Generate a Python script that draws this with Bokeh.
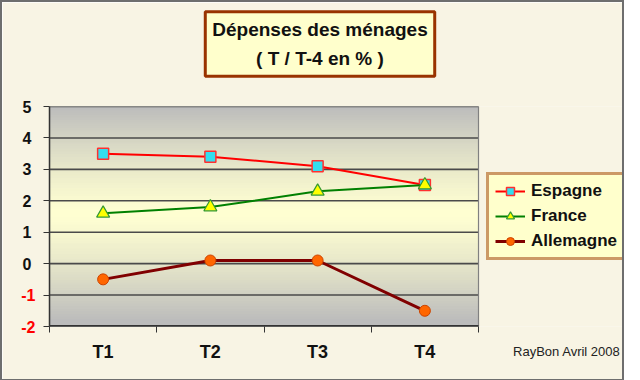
import numpy as np
from bokeh.plotting import figure
from bokeh.models import (FixedTicker, Label, Legend, LegendItem, Range1d,
                          CustomJSTickFormatter, LinearAxis)
from bokeh.embed import file_html
from bokeh.resources import INLINE

# ---- data ----
categories = ["T1", "T2", "T3", "T4"]
espagne = [3.5, 3.4, 3.1, 2.5]
france = [1.6, 1.8, 2.3, 2.5]
allemagne = [-0.5, 0.1, 0.1, -1.5]
y_ticks = [-2, -1, 0, 1, 2, 3, 4, 5]
title_text = "Dépenses des ménages\n( T / T-4 en % )"
credit_text = "RayBon Avril 2008"

# ---- layout (canvas pixels) ----
W, H = 620, 360
OFF = 3
FL, FT, FB = 50 - OFF, 107 - OFF, 327 - OFF   # plot area left/top/bottom
PR = 479 - OFF                                   # plot area right
FONT = "Liberation Sans"
BG = "#F8F4E4"
YMIN, YMAX = min(y_ticks), max(y_ticks)
NX = len(categories)

def dx(cx):
    return (cx - FL) / (PR - FL) * NX

def dy(cy):
    return YMIN + (FB - cy) / (FB - FT) * (YMAX - YMIN)

xpos = [i + 0.5 for i in range(NX)]

p = figure(frame_width=W - FL, frame_height=FB - FT, output_backend="svg",
           toolbar_location=None,
           x_range=Range1d(0, dx(W)), y_range=Range1d(YMIN, YMAX),
           min_border_left=FL, min_border_right=0, min_border_top=FT,
           min_border_bottom=H - FB, border_fill_color=BG,
           background_fill_color=BG, outline_line_color=None)
p.styles = {"border": "2px solid #6E6E6E"}

# gradient background of the plot area
edges = np.linspace(YMIN, YMAX, 85)
bots, tops = edges[:-1], edges[1:]
mids = (bots + tops) / 2
t = np.clip(np.abs(mids - 1.6) / 3.4, 0, 1) ** 1.3
gray = np.array([188, 188, 188])
yel = np.array([255, 255, 210])
cols = ["#%02x%02x%02x" % tuple((yel + (gray - yel) * tt).astype(int)) for tt in t]
p.quad(left=0, right=NX, bottom=bots, top=tops, fill_color=cols,
       line_color=cols, line_width=1, level="image")

# grid lines limited to the plot area
p.xgrid.visible = False
p.ygrid.visible = False
p.segment(x0=0, x1=NX, y0=y_ticks, y1=y_ticks, line_color="#4A4A4A", line_width=1.6)
p.quad(left=0, right=NX, bottom=YMIN, top=YMAX, fill_color=None,
       line_color="#808080", line_width=1.2)
p.segment(x0=0, x1=NX, y0=YMIN, y1=YMIN, line_color="#333333", line_width=3)

# x axis
p.xaxis.ticker = FixedTicker(ticks=xpos, minor_ticks=list(range(NX + 1)))
p.xaxis.formatter = CustomJSTickFormatter(args=dict(cats=categories),
                                          code="return cats[Math.floor(tick)] || '';")
p.xaxis.major_tick_out = 0
p.xaxis.major_tick_in = 0
p.xaxis.minor_tick_out = 6
p.xaxis.minor_tick_in = 0
p.xaxis.minor_tick_line_color = "#333333"
p.xaxis.axis_line_color = None
p.xaxis.major_label_standoff = 9
p.xaxis.major_label_text_font = FONT
p.xaxis.major_label_text_font_style = "bold"
p.xaxis.major_label_text_font_size = "18px"
p.xaxis.major_label_text_color = "#111111"

# inner y axis: ticks + red negative labels
p.yaxis.ticker = FixedTicker(ticks=y_ticks)
p.yaxis.major_label_overrides = {v: (str(v) if v < 0 else "") for v in y_ticks}
p.yaxis.major_tick_out = 6
p.yaxis.major_tick_in = 0
p.yaxis.minor_tick_line_color = None
p.yaxis.axis_line_color = "#333333"
p.yaxis.axis_line_width = 1.5
p.yaxis.major_tick_line_color = "#333333"
p.yaxis.major_label_standoff = 8
p.yaxis.major_label_text_font = FONT
p.yaxis.major_label_text_font_style = "bold"
p.yaxis.major_label_text_font_size = "16px"
p.yaxis.major_label_text_color = "#FF0000"

# outer y axis: black positive labels, shifted onto the same column
outer = LinearAxis(ticker=FixedTicker(ticks=y_ticks),
                   major_label_overrides={v: (str(v) if v >= 0 else "") for v in y_ticks},
                   major_tick_out=0, major_tick_in=0, major_tick_line_color=None,
                   minor_tick_line_color=None, axis_line_color=None,
                   major_label_standoff=-13, major_label_text_font=FONT,
                   major_label_text_font_style="bold",
                   major_label_text_font_size="16px",
                   major_label_text_color="#111111")
p.add_layout(outer, "left")

# series
r1l = p.line(xpos, espagne, line_color="#FF0000", line_width=2)
r1m = p.scatter(xpos, espagne, marker="square", size=11, fill_color="#33DDEE",
                line_color="#FF3030", line_width=1.5)
r2l = p.line(xpos, france, line_color="#008000", line_width=2)
r2m = p.scatter(xpos, france, marker="triangle", size=13, fill_color="#FFFF00",
                line_color="#339933", line_width=1.2)
r3l = p.line(xpos, allemagne, line_color="#800000", line_width=3)
r3m = p.scatter(xpos, allemagne, marker="circle", size=11, fill_color="#FF6600",
                line_color="#CC4400", line_width=1)

legend = Legend(items=[LegendItem(label="Espagne", renderers=[r1l, r1m]),
                       LegendItem(label="France", renderers=[r2l, r2m]),
                       LegendItem(label="Allemagne", renderers=[r3l, r3m])],
                location=(484 - FL, FB - (261 - OFF)))
legend.background_fill_color = "#FFFFCC"
legend.background_fill_alpha = 1
legend.border_line_color = "#993300"
legend.border_line_width = 3
legend.label_text_font = FONT
legend.label_text_font_style = "bold"
legend.label_text_font_size = "17px"
legend.label_text_color = "#111111"
legend.glyph_width = 30
legend.glyph_height = 20
legend.label_height = 20
legend.spacing = 5
legend.padding = 6
legend.margin = 0
legend.label_standoff = 6
p.add_layout(legend, "center")

# title box
p.add_layout(Label(x=dx(320.5 - OFF), y=dy(44.5 - OFF), text=title_text,
                   text_align="center", text_baseline="middle", text_font=FONT,
                   text_font_style="bold", text_font_size="19px", text_color="#111111",
                   text_line_height=1.4, background_fill_color="#FFFFCC",
                   border_line_color="#993300", border_line_width=3, padding=7), "above")

# credit
p.add_layout(Label(x=dx(W - 2), y=dy(352 - OFF), text=credit_text, text_align="right",
                   text_baseline="middle", text_font=FONT, text_font_size="13px",
                   text_color="#222222"), "below")

open("out.html", "w").write(file_html(p, INLINE))
